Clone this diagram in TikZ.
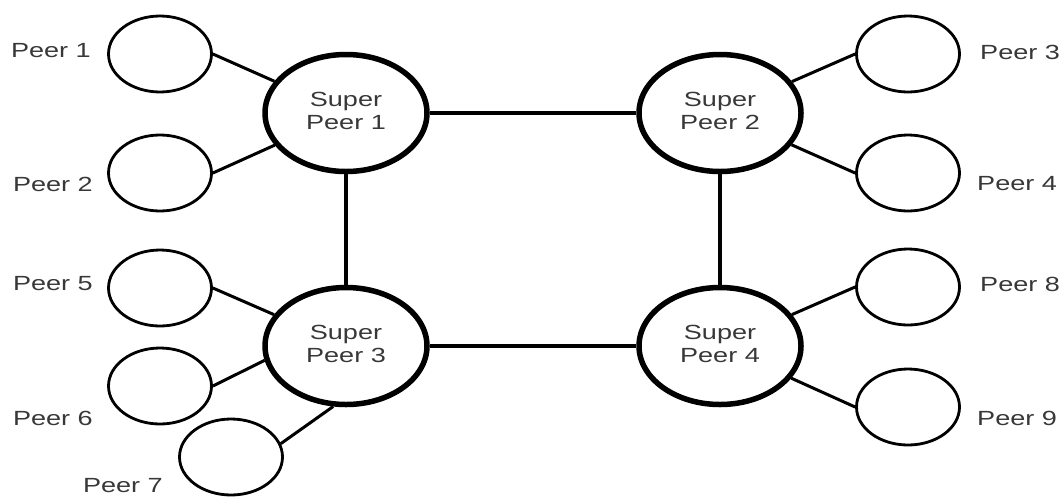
\documentclass[tikz,border=0pt]{standalone}
\usepackage{fontspec}
\setmainfont{Liberation Sans}
\usetikzlibrary{shapes.geometric}
\tikzset{
  peer/.style={ellipse, draw=black, line width=2.8pt, minimum width=103pt, minimum height=76pt, inner sep=0pt},
  super/.style={ellipse, draw=black, line width=5.5pt, minimum width=162pt, minimum height=117pt, inner sep=0pt, text=black!78,
     font=\fontsize{20.5}{23}\selectfont},
  lbl/.style={inner sep=0pt, text=black!78, font=\fontsize{20.5}{23}\selectfont},
  link/.style={draw=black, line width=3pt},
  slink/.style={draw=black, line width=3.2pt}
}
\newcommand{\sx}[1]{\scalebox{1.32}[1]{#1}}
\newcommand{\stwo}[1]{\scalebox{1.32}[1]{\begin{tabular}{@{}c@{}}Super\\#1\end{tabular}}}
\begin{document}
\begin{tikzpicture}[x=1pt,y=-1pt]
\useasboundingbox (0,0) rectangle (1064,496);
% super peers
\node[super] (sp1) at (346,113) {\stwo{Peer 1}};
\node[super] (sp2) at (720,113) {\stwo{Peer 2}};
\node[super] (sp3) at (346,346) {\stwo{Peer 3}};
\node[super] (sp4) at (720,346) {\stwo{Peer 4}};
% peers
\node[peer] (p1) at (160,54) {};
\node[peer] (p2) at (160,173) {};
\node[peer] (p5) at (160,288) {};
\node[peer] (p6) at (160,386) {};
\node[peer] (p7) at (231,457) {};
\node[peer] (p3) at (908,54) {};
\node[peer] (p4) at (908,173) {};
\node[peer] (p8) at (908,287) {};
\node[peer] (p9) at (908,407) {};
% labels
\node[lbl, anchor=east] (l1) at (91,51) {\sx{Peer 1}};
\node[lbl, anchor=east] (l2) at (93,184) {\sx{Peer 2}};
\node[lbl, anchor=east] (l5) at (93,284) {\sx{Peer 5}};
\node[lbl, anchor=east] (l6) at (93,418) {\sx{Peer 6}};
\node[lbl, anchor=east] (l7) at (163,486) {\sx{Peer 7}};
\node[lbl, anchor=west] (l3) at (980,52) {\sx{Peer 3}};
\node[lbl, anchor=west] (l4) at (977,184) {\sx{Peer 4}};
\node[lbl, anchor=west] (l8) at (980,284) {\sx{Peer 8}};
\node[lbl, anchor=west] (l9) at (977,418) {\sx{Peer 9}};
% super links
\draw[slink] (sp1) -- (sp2);
\draw[slink] (sp3) -- (sp4);
\draw[slink] (sp1) -- (sp3);
\draw[slink] (sp2) -- (sp4);
% peer links
\draw[link] (p1.east) -- (sp1);
\draw[link] (p2.east) -- (sp1);
\draw[link] (p5.east) -- (sp3);
\draw[link] (p6.east) -- (sp3.190);
\draw[link] (p7.15) -- (sp3.258);
\draw[link] (p3.west) -- (sp2);
\draw[link] (p4.west) -- (sp2);
\draw[link] (p8.west) -- (sp4);
\draw[link] (p9.west) -- (sp4);
\end{tikzpicture}
\end{document}
